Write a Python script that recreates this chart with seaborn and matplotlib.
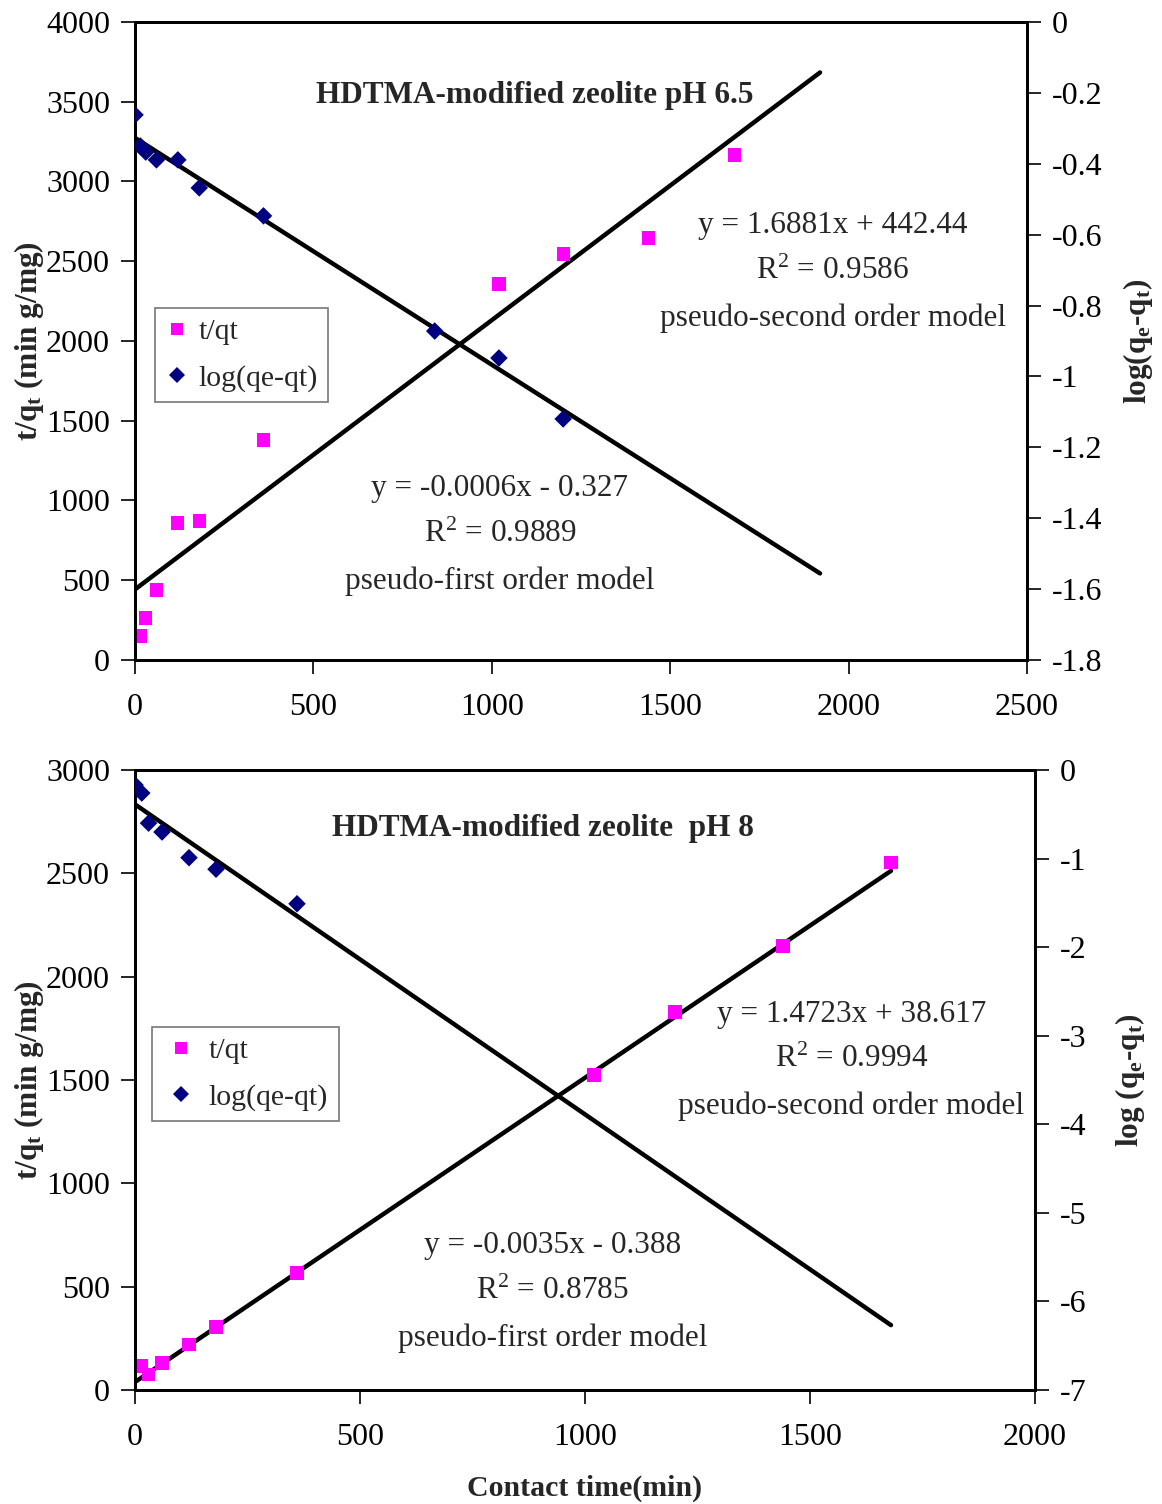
import numpy as np
import pandas as pd
import matplotlib
matplotlib.use("Agg")
import matplotlib.pyplot as plt
from matplotlib.lines import Line2D
import seaborn as sns

# ---- pH 6.5 data ----
t_a = [15, 30, 60, 120, 180, 360, 1020, 1200, 1440, 1680]
tq_a = [150, 263, 439, 859, 871, 1379, 2357, 2545, 2646, 3166]
tl_a = [0, 15, 30, 60, 120, 180, 360, 840, 1020, 1200]
lg_a = [-0.262, -0.350, -0.367, -0.389, -0.389, -0.468, -0.547, -0.872, -0.948, -1.120]
fit2_a = [1.6881, 442.44]   # pseudo-second order: slope, intercept
fit1_a = [-0.00064, -0.327] # pseudo-first order: slope, intercept
r2_a = [0.9586, 0.9889]
span_a = [0, 1920]

# ---- pH 8 data ----
t_b = [15, 30, 60, 120, 180, 360, 1020, 1200, 1440, 1680]
tq_b = [116, 73, 131, 222, 305, 566, 1524, 1829, 2148, 2554]
tl_b = [0, 15, 30, 60, 120, 180, 360]
lg_b = [-0.169, -0.26, -0.60, -0.70, -0.99, -1.12, -1.51]
fit2_b = [1.4723, 38.617]
fit1_b = [-0.0035, -0.388]
r2_b = [0.9994, 0.8785]
span_b = [0, 1680]

PINK = "#FF00FF"
NAVY = "#000080"

sns.set_style("ticks")
plt.rcParams["font.family"] = ["Liberation Serif", "DejaVu Serif"]
plt.rcParams["mathtext.fontset"] = "custom"
plt.rcParams["mathtext.rm"] = "Liberation Serif"
plt.rcParams["mathtext.bf"] = "Liberation Serif:bold"
plt.rcParams["mathtext.it"] = "Liberation Serif:italic"

FS_TICK = 23
FS_LAB = 22.5
FS_TXT = 22.5
FS_LEG = 21.5

fig = plt.figure(figsize=(11.62, 15.04), dpi=100)
ax1 = fig.add_axes([0.1162, 0.5612, 0.8838 - 0.1162, 0.98537 - 0.5612])
ax2 = fig.add_axes([0.1162, 0.0758, 0.8907 - 0.1162, 0.48803 - 0.0758])


def fmt_eq(fit, dec):
    s, b = fit
    sign = "+" if b >= 0 else "-"
    return f"y = {s:.4f}x {sign} {abs(b):.{dec}f}"


def panel(ax, t, tq, tl, lg, fit2, fit1, r2, span, xlim, xt, ylim, yt, rlim, rt,
          title, title_xy, eq2_xy, eq1_xy, rlabel, rpad, leg_anchor, leg_hl,
          dec2, dec1):
    ax.set_facecolor("white")
    axr = ax.twinx()
    sns.scatterplot(x=t, y=tq, ax=ax, marker="s", s=90, color=PINK,
                    edgecolor="none", zorder=3)
    xs = np.array(span, dtype=float)
    sns.lineplot(x=xs, y=fit2[0] * xs + fit2[1], ax=ax, color="black", lw=3.2,
                 zorder=2)
    sns.scatterplot(x=tl, y=lg, ax=axr, marker="D", s=80, color=NAVY,
                    edgecolor="none", zorder=3)
    sns.lineplot(x=xs, y=fit1[0] * xs + fit1[1], ax=axr, color="black", lw=3.2,
                 zorder=2)

    ax.set_xlim(*xlim)
    ax.set_xticks(xt)
    ax.set_ylim(*ylim)
    ax.set_yticks(yt)
    axr.set_ylim(*rlim)
    axr.set_yticks(rt)
    axr.set_yticklabels([("%g" % v) for v in rt])

    for a in (ax, axr):
        for sp in a.spines.values():
            sp.set_visible(True)
            sp.set_linewidth(2)
            sp.set_color("black")
        a.tick_params(labelsize=FS_TICK, length=10, width=1.2, direction="out",
                      colors="black", pad=8)
    ax.tick_params(axis="x", pad=14)

    ax.set_ylabel(r"t/q$_\mathbf{t}$ (min g/mg)", fontsize=FS_LAB,
                  fontweight="bold", labelpad=0)
    axr.set_ylabel(rlabel, fontsize=FS_LAB, fontweight="bold", labelpad=rpad)

    ax.text(*title_xy, title, transform=ax.transAxes, ha="center", va="center",
            fontsize=FS_TXT, fontweight="bold")
    for xy, lines in ((eq2_xy, [fmt_eq(fit2, dec2),
                                r"R$^\mathregular{2}$ = " + f"{r2[0]:.4f}",
                                "pseudo-second order model"]),
                      (eq1_xy, [fmt_eq(fit1, dec1),
                                r"R$^\mathregular{2}$ = " + f"{r2[1]:.4f}",
                                "pseudo-first order model"])):
        ax.text(*xy, "\n".join(lines), transform=ax.transAxes, ha="center",
                va="center", fontsize=FS_TXT, linespacing=1.75)

    handles = [Line2D([], [], ls="none", marker="s", ms=9, color=PINK,
                      markeredgewidth=0),
               Line2D([], [], ls="none", marker="D", ms=8, color=NAVY,
                      markeredgewidth=0)]
    leg = ax.legend(handles, ["t/qt", "log(qe-qt)"], loc="upper left",
                    bbox_to_anchor=leg_anchor, borderaxespad=0, fontsize=FS_LEG,
                    frameon=True, fancybox=False, handletextpad=0.3,
                    handlelength=leg_hl, borderpad=0.35, labelspacing=0.65)
    leg.get_frame().set_edgecolor("#555555")
    leg.get_frame().set_linewidth(1.2)
    return axr


panel(ax1, t_a, tq_a, tl_a, lg_a, fit2_a, fit1_a, r2_a, span_a,
      (0, 2500), [0, 500, 1000, 1500, 2000, 2500],
      (0, 4000), [0, 500, 1000, 1500, 2000, 2500, 3000, 3500, 4000],
      (-1.8, 0), [0, -0.2, -0.4, -0.6, -0.8, -1, -1.2, -1.4, -1.6, -1.8],
      "HDTMA-modified zeolite pH 6.5", (0.448, 0.885),
      (0.7825, 0.608), (0.409, 0.196),
      r"log(q$_\mathbf{e}$-q$_\mathbf{t}$)", 13, (0.0224, 0.5517), 0.8, 2, 3)

panel(ax2, t_b, tq_b, tl_b, lg_b, fit2_b, fit1_b, r2_b, span_b,
      (0, 2000), [0, 500, 1000, 1500, 2000],
      (0, 3000), [0, 500, 1000, 1500, 2000, 2500, 3000],
      (-7, 0), [0, -1, -2, -3, -4, -5, -6, -7],
      "HDTMA-modified zeolite  pH 8", (0.453, 0.905),
      (0.796, 0.532), (0.464, 0.158),
      r"log (q$_\mathbf{e}$-q$_\mathbf{t}$)", 19, (0.0189, 0.5855), 1.25, 3, 3)

ax2.set_xlabel("Contact time(min)", fontsize=21.5, fontweight="bold",
               labelpad=16)

fig.savefig("out.png", dpi=100, facecolor="white")
